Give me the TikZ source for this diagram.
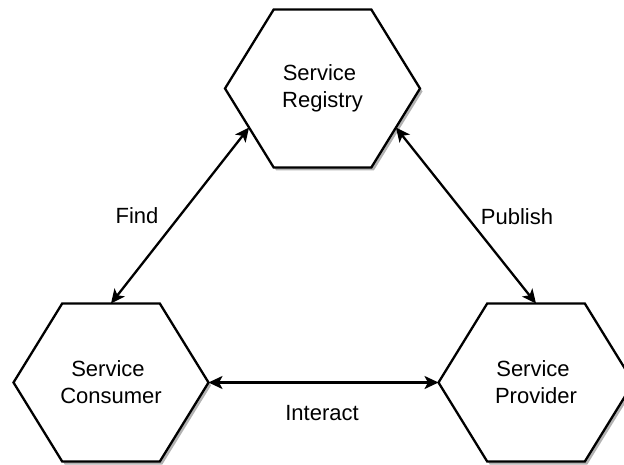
\documentclass[tikz,border=0pt]{standalone}
\usepackage{fontspec}
\setmainfont{Liberation Sans}
\usetikzlibrary{shapes.symbols,shadows,arrows.meta}
\newcommand{\hexlines}[2]{\makebox[0pt]{#1\hspace*{6pt}}\\\makebox[0pt]{#2}}
\tikzset{
  x=1pt,y=-1pt,
  hex/.style={shape=signal,signal to=east and west,signal pointer angle=116.7,
    draw=black,line width=2.3pt,fill=white,minimum width=195pt,minimum height=158pt,
    inner sep=0pt,outer sep=0pt,align=center,
    font=\fontsize{22}{27}\selectfont,
    drop shadow={shadow xshift=2.5pt,shadow yshift=-3pt,fill=black!30,opacity=1}},
  link/.style={line width=2.3pt,{Stealth[length=14pt,width=13pt,inset=3.5pt]}-{Stealth[length=14pt,width=13pt,inset=3.5pt]}},
  lbl/.style={font=\fontsize{22}{27}\selectfont,inner sep=0pt}
}
\begin{document}
\begin{tikzpicture}
\useasboundingbox (0,0) rectangle (624,465);
\clip (0,0) rectangle (624,465);
\node[hex] (reg) at (322.5,88.5) {\hexlines{Service}{Registry}};
\node[hex] (con) at (111,382.5) {\hexlines{Service}{Consumer}};
\node[hex] (pro) at (536,382.5) {\hexlines{Service}{Provider}};
\draw[link] (con.north) -- (reg.208.7);
\draw[link] (reg.-28.7) -- (pro.north);
\draw[link] (con.east) -- (pro.west);
\node[lbl] (find) at (137,216) {Find};
\node[lbl] (pub) at (517,217) {Publish};
\node[lbl] (int) at (322,413) {Interact};
\end{tikzpicture}
\end{document}
